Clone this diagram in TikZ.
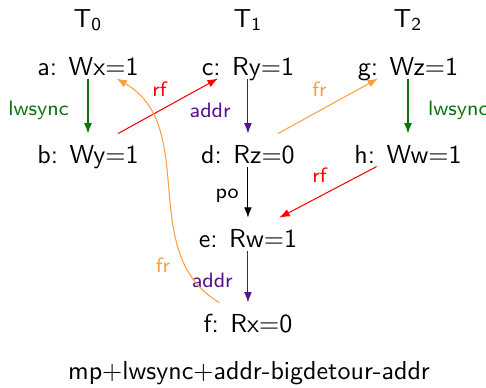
\documentclass[tikz,border=0pt]{standalone}
\usepackage{tikz}
\usetikzlibrary{arrows.meta,positioning}
\renewcommand{\familydefault}{\sfdefault}
\definecolor{lwsgreen}{rgb}{0.05,0.45,0.05}
\definecolor{addrpurple}{rgb}{0.33,0.08,0.55}
\definecolor{frorange}{rgb}{1,0.62,0.25}

\begin{document}
\begin{tikzpicture}[
  ev/.style={inner sep=0pt, text height=11.35pt, text depth=0.95pt},
  lbl/.style={font=\footnotesize},
  lws/.style={->, lwsgreen},
  addr/.style={->, addrpurple},
  rf/.style={->, red},
  fr/.style={->, frorange},
  po/.style={->, black},
  >={Latex[length=4pt,width=3pt]}
]
\useasboundingbox (0,0) rectangle (6.568,-5.243);

% threads
\node[anchor=base] at (1.189,-0.365) (t0) {T\textsubscript{0}};
\node[anchor=base] at (3.351,-0.365) (t1) {T\textsubscript{1}};
\node[anchor=base] at (5.514,-0.365) (t2) {T\textsubscript{2}};

\node[ev] at (1.189,-0.838) (a) {a: Wx=1};
\node[ev, below=0.744cm of a] (b) {b: Wy=1};
\node[ev] at (3.351,-0.838) (c) {c: Ry=1};
\node[ev, below=0.744cm of c] (d) {d: Rz=0};
\node[ev, below=0.69cm of d]  (e) {e: Rw=1};
\node[ev, below=0.70cm of e]  (f) {f: Rx=0};
\node[ev] at (5.514,-0.838) (g) {g: Wz=1};
\node[ev, below=0.744cm of g] (h) {h: Ww=1};

\node[anchor=base] at (3.365,-5.122) (name) {mp+lwsync+addr-bigdetour-addr};

\draw[lws]  (a) -- node[lbl, pos=0.58, left=3.9pt]{lwsync} (b);
\draw[addr] (c) -- node[lbl, pos=0.58, left=3.1pt]{addr} (d);
\draw[po]   (d) -- node[lbl, pos=0.58, left]{po} (e);
\draw[addr] (e) -- node[lbl, pos=0.58, left=2.3pt]{addr} (f);
\draw[lws]  (g) -- node[lbl, pos=0.58, right=4.2pt]{lwsync} (h);
\draw[rf] (b) -- node[lbl, midway, above left, xshift=3pt]{rf} (c);
\draw[fr] (d) -- node[lbl, midway, above left, xshift=3pt]{fr} (g);
\draw[rf] (h) -- node[lbl, midway, above left, xshift=3pt]{rf} (e);
\draw[fr] (f) to[out=150, in=-30] node[lbl, pos=0.2, left=2pt]{fr} (a);
\end{tikzpicture}
\end{document}
